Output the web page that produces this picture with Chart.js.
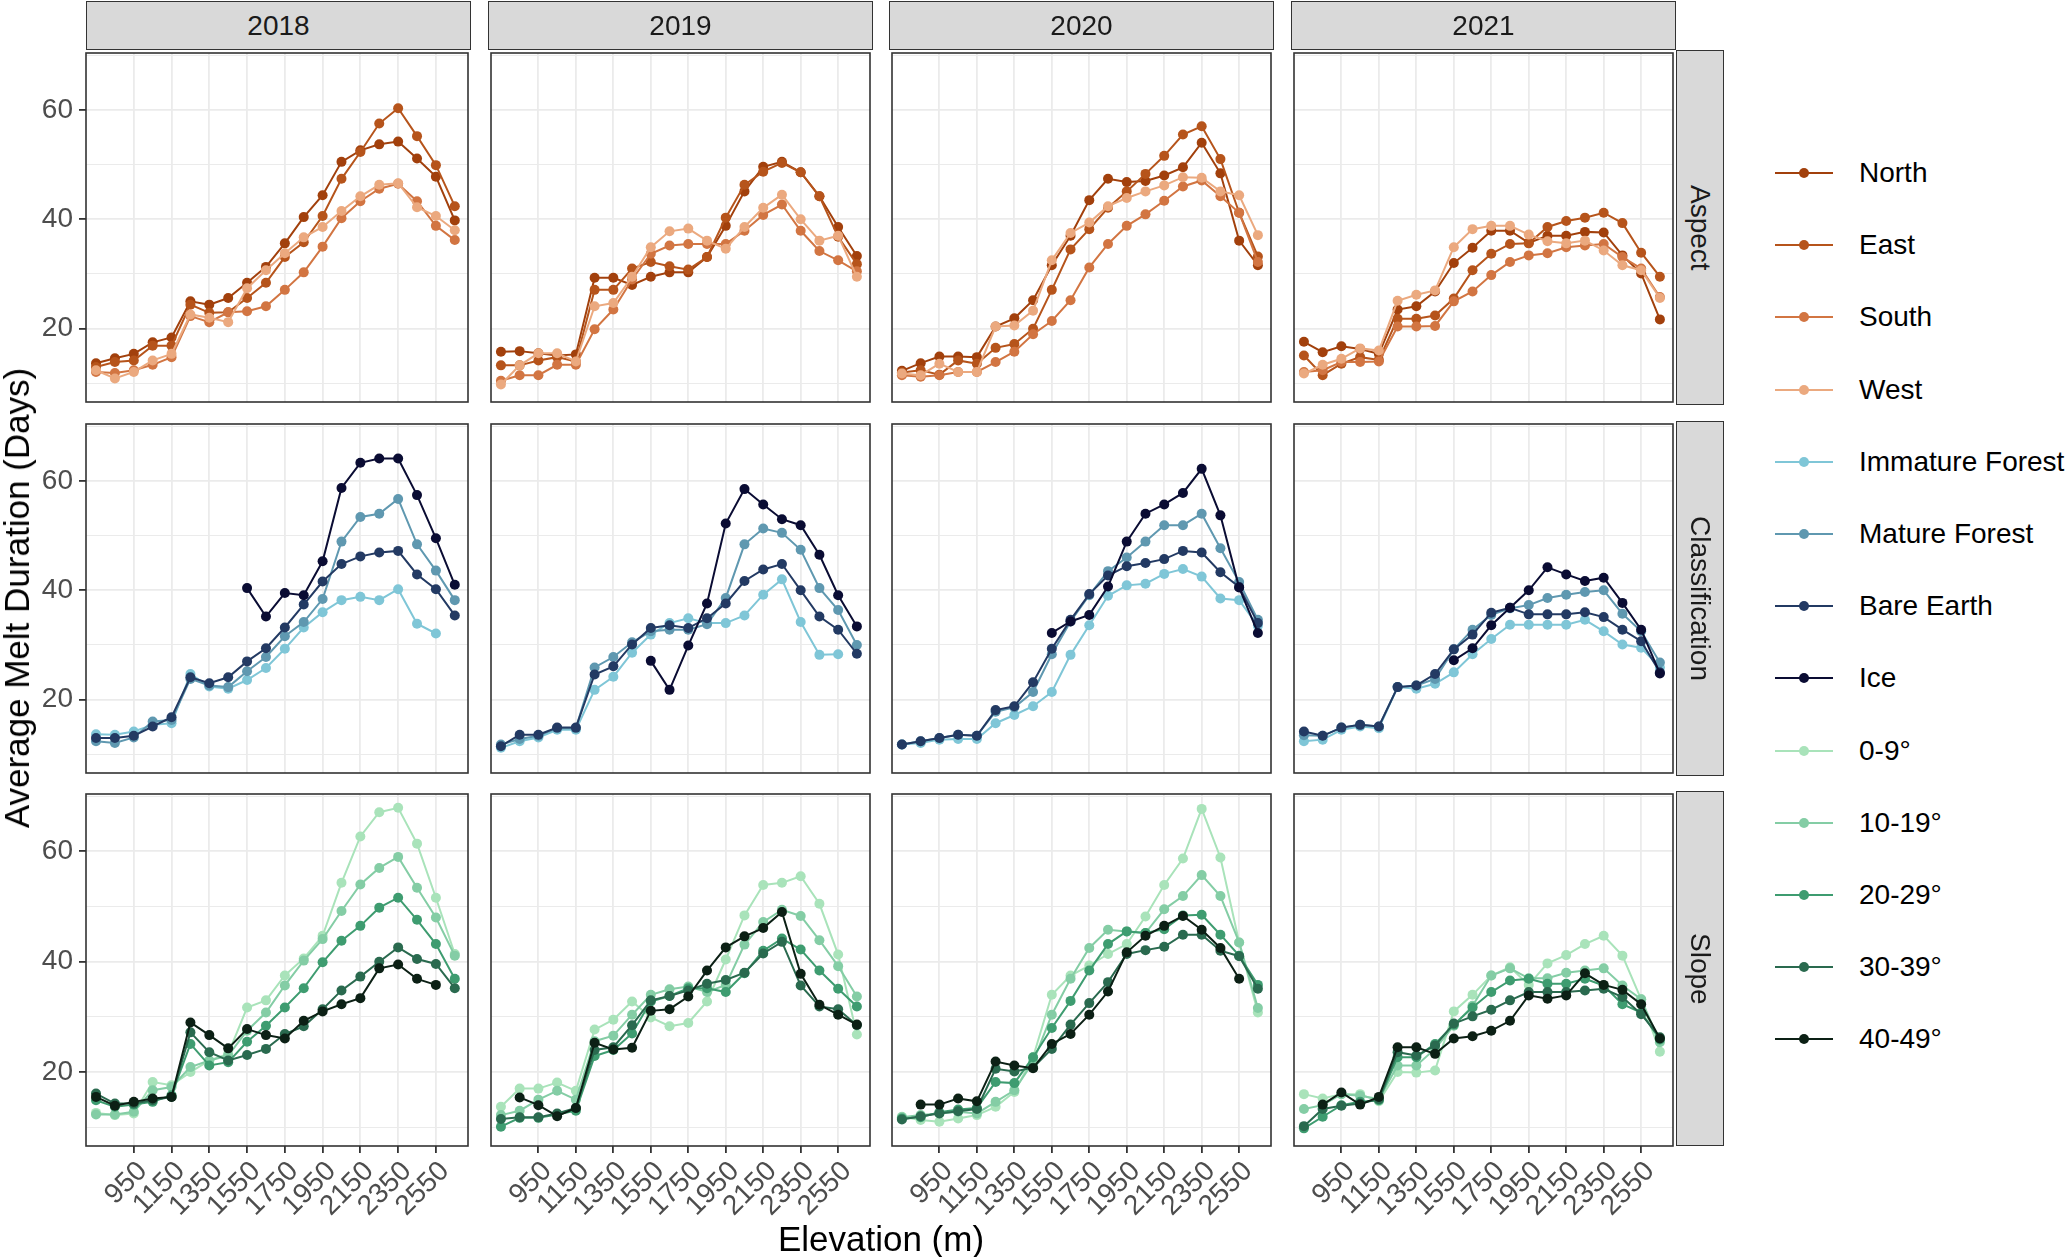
<!DOCTYPE html>
<html>
<head>
<meta charset="utf-8">
<script src="https://cdn.jsdelivr.net/npm/chart.js@4.4.1/dist/chart.umd.min.js"></script>
<style>
  body { margin: 0; background: #fff; width: 2067px; height: 1257px; position: relative; overflow: hidden;
         font-family: "Liberation Sans", Arial, sans-serif; }
  .strip { position: absolute; background: #d9d9d9; border: 1.6px solid #333; box-sizing: border-box;
           display: flex; align-items: center; justify-content: center; font-size: 28px; color: #1a1a1a; }
  .strip.side span { writing-mode: vertical-rl; }
  .title { position: absolute; font-size: 35px; color: #000; white-space: nowrap; }
  .key { position: absolute; height: 2px; width: 58px; left: 1775px; }
  .dot { position: absolute; width: 10px; height: 10px; border-radius: 50%; left: 1799px; }
  .lab { position: absolute; left: 1859px; font-size: 28px; color: #000; white-space: nowrap; line-height: 30px; }
</style>
</head>
<body>
<script>
// elevation bins (m) and axis breaks
const elevation = [750, 850, 950, 1050, 1150, 1250, 1350, 1450, 1550, 1650, 1750, 1850, 1950, 2050, 2150, 2250, 2350, 2450, 2550, 2650];
const xTicks = [950, 1150, 1350, 1550, 1750, 1950, 2150, 2350, 2550];
const yTicks = [10, 20, 30, 40, 50, 60, 70];
const yLabels = [20, 40, 60];
const years = ["2018", "2019", "2020", "2021"];
const facets = ["Aspect", "Classification", "Slope"];

const aspectNames = ["North", "East", "South", "West"];
const classNames = ["Immature Forest", "Mature Forest", "Bare Earth", "Ice"];
const slopeNames = ["0-9°", "10-19°", "20-29°", "30-39°", "40-49°"];

// Aspect
const north2018 = [13.7, 14.6, 15.4, 17.5, 18.4, 25.0, 24.4, 25.6, 28.4, 31.3, 35.6, 40.4, 44.4, 50.5, 52.6, 53.7, 54.2, 51.1, 47.8, 39.8];
const east2018  = [13.0, 13.9, 14.2, 16.9, 16.9, 24.4, 22.9, 23.0, 25.6, 28.4, 33.1, 35.8, 40.6, 47.4, 52.3, 57.5, 60.3, 55.2, 49.9, 42.4];
const south2018 = [12.1, 11.9, 12.4, 13.4, 14.8, 22.3, 21.2, 23.0, 23.2, 24.1, 27.1, 30.3, 35.0, 40.2, 43.3, 45.6, 46.5, 43.3, 38.8, 36.2];
const west2018  = [12.4, 10.9, 12.1, 14.2, 15.4, 22.6, 22.0, 21.2, 27.4, 30.7, 33.8, 36.7, 38.6, 41.5, 44.2, 46.3, 46.6, 42.2, 40.6, 38.0];

const north2019 = [15.8, 15.9, 15.5, 15.1, 15.3, 29.3, 29.3, 28.0, 29.5, 30.3, 30.3, 33.1, 38.8, 45.1, 49.6, 50.5, 48.6, 44.2, 38.6, 33.3];
const east2019  = [13.3, 13.3, 14.2, 14.8, 14.0, 27.1, 27.1, 31.0, 32.2, 31.4, 30.8, 33.1, 40.3, 46.3, 48.7, 50.3, 48.6, 44.2, 36.8, 31.8];
const south2019 = [10.5, 11.5, 11.5, 13.4, 13.4, 19.9, 23.5, 29.0, 33.7, 35.2, 35.5, 35.5, 35.5, 37.9, 40.8, 42.7, 37.9, 34.2, 32.5, 30.5];
const west2019  = [9.8, 13.3, 15.5, 15.5, 14.0, 24.1, 24.7, 29.5, 34.9, 37.8, 38.3, 36.1, 34.6, 38.6, 42.1, 44.5, 40.0, 36.1, 37.0, 29.5];

const north2020 = [12.3, 13.7, 14.9, 14.9, 14.8, 20.4, 21.9, 25.2, 31.6, 37.0, 43.5, 47.4, 46.8, 47.0, 48.0, 49.5, 54.0, 48.4, 36.1, 31.6];
const east2020  = [12.0, 12.4, 11.6, 14.2, 13.6, 16.5, 17.2, 20.0, 27.1, 34.5, 38.2, 42.1, 45.1, 48.3, 51.6, 55.5, 57.0, 51.0, 41.2, 33.2];
const south2020 = [11.5, 11.2, 11.5, 12.1, 12.1, 13.9, 15.8, 19.0, 21.4, 25.2, 31.2, 35.5, 38.8, 40.9, 43.4, 46.0, 47.1, 44.2, 41.2, 32.2];
const west2020  = [11.8, 11.5, 13.6, 12.1, 12.1, 20.4, 20.6, 23.3, 32.5, 37.5, 39.4, 42.4, 43.9, 45.1, 46.2, 47.7, 47.6, 45.1, 44.4, 37.1];

const north2021 = [17.6, 15.7, 16.8, 16.3, 15.4, 23.5, 24.1, 26.8, 32.0, 34.8, 37.9, 37.9, 35.7, 37.0, 37.0, 37.7, 37.6, 33.4, 30.1, 21.7];
const east2021  = [15.1, 11.5, 13.6, 14.8, 14.3, 21.8, 21.8, 22.4, 25.5, 30.7, 33.7, 35.5, 35.6, 38.6, 39.7, 40.3, 41.2, 39.3, 33.9, 29.5];
const south2021 = [12.1, 12.4, 13.9, 13.9, 14.0, 20.4, 20.4, 20.5, 25.0, 26.8, 29.8, 32.2, 33.4, 33.8, 34.9, 35.2, 35.5, 33.1, 31.0, 25.8];
const west2021  = [11.8, 13.4, 14.5, 16.4, 16.0, 25.1, 26.2, 27.0, 34.9, 38.2, 38.8, 38.8, 37.2, 36.0, 35.6, 36.1, 34.3, 31.6, 30.7, 25.6];

// Classification
const immature2018 = [13.7, 13.6, 14.2, 15.4, 15.7, 24.7, 22.4, 22.0, 23.6, 25.8, 29.3, 33.2, 36.0, 38.2, 38.8, 38.2, 40.2, 33.9, 32.1, null];
const mature2018   = [12.4, 12.1, 13.1, 16.0, 16.3, 23.8, 22.6, 22.3, 25.2, 27.8, 31.6, 34.2, 38.4, 48.9, 53.4, 54.0, 56.7, 48.4, 43.6, 38.2];
const bare2018     = [13.0, 13.0, 13.4, 15.1, 16.8, 24.1, 23.0, 24.1, 27.0, 29.4, 33.2, 37.4, 41.6, 44.8, 46.2, 46.9, 47.2, 42.9, 40.2, 35.4];
const ice2018      = [null, null, null, null, null, null, null, null, 40.4, 35.2, 39.5, 39.1, 45.3, 58.7, 63.3, 64.1, 64.1, 57.4, 49.5, 41.0];

const immature2019 = [11.2, 12.4, 13.1, 14.5, 14.5, 21.8, 24.2, 28.6, 31.9, 34.0, 34.9, 34.0, 34.0, 35.4, 39.2, 42.0, 34.2, 28.2, 28.3, null];
const mature2019   = [11.8, 12.8, 13.4, 14.8, 14.8, 25.9, 27.8, 30.5, 32.5, 32.8, 32.8, 33.8, 38.6, 48.4, 51.3, 50.5, 47.4, 40.4, 36.4, 30.0];
const bare2019     = [11.5, 13.6, 13.6, 14.9, 14.9, 24.6, 26.1, 30.1, 33.1, 33.6, 33.1, 34.9, 37.6, 41.7, 43.8, 44.8, 40.0, 35.2, 32.8, 28.4];
const ice2019      = [null, null, null, null, null, null, null, null, 27.1, 21.8, 29.9, 37.6, 52.2, 58.5, 55.7, 53.0, 51.9, 46.5, 39.1, 33.4];

const immature2020 = [11.8, 12.1, 12.7, 12.8, 12.8, 15.7, 17.2, 18.8, 21.4, 28.2, 33.6, 39.0, 40.9, 41.2, 43.0, 43.9, 42.5, 38.5, 38.2, 33.5];
const mature2020   = [11.8, 12.4, 13.0, 13.6, 13.4, 17.8, 18.6, 21.4, 28.3, 34.3, 39.1, 43.5, 46.0, 48.9, 51.9, 51.9, 54.0, 47.7, 41.5, 34.6];
const bare2020     = [11.8, 12.4, 13.0, 13.6, 13.4, 18.1, 18.8, 23.2, 29.3, 34.6, 39.3, 42.7, 44.4, 45.0, 45.7, 47.2, 46.9, 43.3, 40.6, 34.0];
const ice2020      = [null, null, null, null, null, null, null, null, 32.2, 34.3, 35.5, 40.7, 48.9, 54.0, 55.7, 57.8, 62.2, 53.7, 40.5, 32.2];

const immature2021 = [12.4, 12.7, 14.5, 15.1, 14.8, 22.3, 22.0, 22.9, 25.0, 28.3, 31.1, 33.7, 33.7, 33.7, 33.7, 34.6, 32.5, 30.1, 29.5, 25.9];
const mature2021   = [13.5, 13.4, 14.9, 15.4, 15.1, 22.3, 22.6, 23.8, 29.2, 32.8, 35.5, 36.7, 37.3, 38.6, 39.2, 39.7, 40.0, 35.7, 32.5, 26.8];
const bare2021     = [14.2, 13.4, 14.9, 15.4, 15.1, 22.3, 22.6, 24.7, 29.2, 31.9, 35.9, 36.8, 35.6, 35.6, 35.6, 36.0, 35.1, 32.8, 30.7, 25.0];
const ice2021      = [null, null, null, null, null, null, null, null, 27.2, 29.4, 33.6, 36.8, 40.0, 44.2, 42.9, 41.7, 42.3, 37.7, 32.8, 24.8];

// Slope
const s0_2018  = [12.6, 12.2, 12.5, 18.2, 17.6, 20.0, 22.1, 23.3, 31.7, 33.0, 37.5, 40.6, 44.7, 54.3, 62.7, 67.1, 67.9, 61.4, 51.6, 41.4];
const s10_2018 = [12.3, 12.3, 12.8, 16.7, 17.3, 20.9, 22.1, 23.0, 27.5, 30.8, 35.7, 40.2, 44.1, 49.2, 54.0, 57.0, 59.0, 53.4, 48.0, 41.1];
const s20_2018 = [14.9, 13.7, 14.1, 14.6, 15.8, 25.1, 21.2, 21.8, 25.5, 28.4, 31.7, 35.2, 39.9, 43.8, 46.5, 49.8, 51.6, 47.6, 43.2, 36.9];
const s30_2018 = [16.1, 14.3, 14.3, 14.9, 15.5, 27.2, 23.6, 22.1, 23.1, 24.2, 26.9, 28.3, 31.4, 34.8, 37.3, 40.0, 42.6, 40.5, 39.6, 35.2];
const s40_2018 = [15.5, 13.9, 14.6, 15.2, 15.5, 29.0, 26.7, 24.3, 27.8, 26.7, 26.1, 29.3, 31.0, 32.3, 33.4, 38.8, 39.5, 36.9, 35.8, null];

const s0_2019  = [13.7, 17.0, 17.0, 18.1, 16.6, 27.7, 29.5, 32.8, 29.9, 28.3, 28.9, 32.8, 40.4, 48.4, 53.9, 54.3, 55.5, 50.5, 41.3, 26.8];
const s10_2019 = [12.2, 13.0, 15.0, 16.6, 15.0, 25.6, 26.6, 30.4, 34.0, 35.0, 35.5, 34.5, 35.8, 43.1, 47.2, 49.4, 48.3, 43.9, 39.2, 33.7];
const s20_2019 = [10.1, 11.7, 11.7, 12.3, 13.0, 22.9, 24.0, 27.0, 32.8, 33.8, 35.2, 35.2, 34.5, 37.9, 42.0, 44.2, 42.2, 38.4, 35.1, 31.9];
const s30_2019 = [11.5, 11.8, 11.8, 12.5, 13.5, 24.0, 24.5, 28.5, 33.0, 33.8, 34.8, 36.0, 36.7, 38.0, 41.5, 43.6, 35.7, 31.9, 31.4, 28.5];
const s40_2019 = [null, 15.4, 14.0, 12.0, 13.5, 25.3, 24.1, 24.4, 31.1, 31.4, 33.7, 38.4, 42.6, 44.6, 46.1, 49.0, 37.8, 32.2, 30.4, 28.6];

const s0_2020  = [11.9, 11.3, 11.0, 11.6, 12.2, 13.7, 16.4, 22.7, 34.0, 37.5, 39.3, 41.4, 43.2, 48.2, 53.9, 58.7, 67.7, 58.9, 43.5, 30.8];
const s10_2020 = [11.8, 12.2, 12.5, 12.8, 12.5, 14.6, 16.7, 21.8, 30.4, 36.9, 42.5, 45.8, 45.5, 45.2, 49.5, 51.9, 55.7, 51.9, 43.5, 31.6];
const s20_2020 = [11.6, 11.8, 12.7, 13.2, 13.5, 18.2, 18.0, 22.7, 28.0, 32.9, 38.4, 43.2, 45.5, 45.2, 45.9, 48.4, 48.5, 44.9, 41.1, 35.8];
const s30_2020 = [11.4, 12.0, 12.5, 12.9, 13.3, 20.6, 20.1, 20.8, 24.2, 28.6, 32.5, 36.3, 41.4, 42.1, 42.7, 44.9, 44.9, 42.0, 41.0, 35.1];
const s40_2020 = [null, 14.1, 14.1, 15.2, 14.7, 21.9, 21.2, 20.7, 25.1, 26.9, 30.4, 34.6, 41.7, 44.7, 46.5, 48.3, 45.8, 42.5, 36.9, null];

const s0_2021  = [16.0, 15.2, 16.0, 16.0, 14.7, 20.0, 19.9, 20.3, 31.0, 34.0, 37.5, 39.0, 35.8, 39.7, 41.2, 43.2, 44.7, 41.1, 33.2, 23.7];
const s10_2021 = [13.3, 14.0, 16.0, 15.7, 15.1, 21.2, 21.2, 24.2, 28.4, 32.0, 37.5, 38.8, 37.0, 37.0, 38.0, 38.4, 38.8, 35.7, 33.2, 25.4];
const s20_2021 = [9.8, 11.9, 14.0, 14.6, 14.9, 22.7, 22.7, 25.1, 28.6, 31.7, 34.5, 36.6, 36.9, 36.0, 36.0, 36.9, 35.7, 32.3, 30.8, 25.9];
const s30_2021 = [10.2, 13.3, 13.9, 14.3, 15.1, 23.6, 23.0, 24.8, 28.8, 30.1, 31.3, 33.0, 34.5, 34.5, 34.5, 34.8, 35.1, 33.6, 30.5, 26.3];
const s40_2021 = [null, 14.1, 16.3, 14.1, 15.5, 24.5, 24.5, 23.3, 26.1, 26.5, 27.5, 29.3, 33.9, 33.3, 33.9, 37.9, 35.8, 34.9, 32.3, 26.1];

// colours
const aspectColors = ["#a2400c", "#b6541b", "#d27542", "#eba97f"];
const classColors = ["#7fc6d7", "#5f98b0", "#233a63", "#0a0c33"];
const slopeColors = ["#a9e3ba", "#84cda5", "#3e9c70", "#2a6a4f", "#0c2015"];

const seriesNames = [aspectNames, classNames, slopeNames];
const seriesColors = [aspectColors, classColors, slopeColors];
const panelValues = [
  [[north2018, east2018, south2018, west2018], [north2019, east2019, south2019, west2019],
   [north2020, east2020, south2020, west2020], [north2021, east2021, south2021, west2021]],
  [[immature2018, mature2018, bare2018, ice2018], [immature2019, mature2019, bare2019, ice2019],
   [immature2020, mature2020, bare2020, ice2020], [immature2021, mature2021, bare2021, ice2021]],
  [[s0_2018, s10_2018, s20_2018, s30_2018, s40_2018], [s0_2019, s10_2019, s20_2019, s30_2019, s40_2019],
   [s0_2020, s10_2020, s20_2020, s30_2020, s40_2020], [s0_2021, s10_2021, s20_2021, s30_2021, s40_2021]]
];

// layout (px)
const FONT = '"Liberation Sans", Arial, sans-serif';
const colLeft = [86, 488, 889, 1291];
const rowTop = [50, 421, 791];
const PW = 385, PH = 355;
const Y_W = 84, X_H = 75, PAD = 2;

const frame = {
  id: "frame",
  afterDraw(chart) {
    const { ctx, chartArea: a } = chart;
    ctx.save();
    ctx.strokeStyle = "#333333";
    ctx.lineWidth = 1.6;
    ctx.strokeRect(a.left, a.top, a.right - a.left, a.bottom - a.top);
    ctx.restore();
  }
};

function addDiv(cls, css, text) {
  const d = document.createElement("div");
  d.className = cls;
  d.style.cssText = css;
  if (text !== undefined) d.innerHTML = text;
  document.body.appendChild(d);
  return d;
}

function makePanel(r, c) {
  const names = seriesNames[r];
  const colors = seriesColors[r];
  const values = panelValues[r][c];
  const left = c === 0, bottom = r === 2;
  const w = PW + (left ? Y_W : 0) + 2 * PAD;
  const h = PH + (bottom ? X_H : 0) + 2 * PAD;

  const canvas = document.createElement("canvas");
  canvas.width = w;
  canvas.height = h;
  canvas.style.cssText = `position:absolute;left:${colLeft[c] - (left ? Y_W : 0) - PAD}px;top:${rowTop[r] - PAD}px;width:${w}px;height:${h}px`;
  document.body.appendChild(canvas);

  new Chart(canvas, {
    type: "line",
    data: {
      datasets: names.map((n, i) => ({
        label: n,
        data: elevation.map((x, k) => ({ x: x, y: values[i][k] })),
        borderColor: colors[i],
        backgroundColor: colors[i],
        pointBackgroundColor: colors[i],
        pointBorderWidth: 0,
        pointRadius: 5,
        pointHoverRadius: 5,
        borderWidth: 2,
        tension: 0,
        spanGaps: false,
        order: names.length - i
      }))
    },
    options: {
      responsive: false,
      animation: false,
      devicePixelRatio: 1,
      events: [],
      layout: { padding: PAD },
      plugins: { legend: { display: false }, tooltip: { enabled: false } },
      scales: {
        x: {
          type: "linear",
          min: 697,
          max: 2720,
          afterBuildTicks: s => { s.ticks = xTicks.map(v => ({ value: v })); },
          afterFit: s => {
            s.height = bottom ? X_H : 0;
            s.paddingLeft = 0; s.paddingRight = 0;
          },
          border: { display: false },
          grid: { color: "#ebebeb", lineWidth: 1.8, drawTicks: bottom, tickLength: 7, tickWidth: 1.8, tickColor: "#333333" },
          ticks: {
            display: bottom, autoSkip: false, maxRotation: 45, minRotation: 45, padding: 2, labelOffset: 9,
            color: "#4d4d4d", font: { family: FONT, size: 28 },
            callback: v => String(v)
          }
        },
        y: {
          min: 6.6,
          max: 70.4,
          afterBuildTicks: s => { s.ticks = yTicks.map(v => ({ value: v })); },
          afterFit: s => {
            s.width = left ? Y_W : 0;
            s.paddingTop = 0; s.paddingBottom = 0;
          },
          border: { display: false },
          grid: {
            color: "#ebebeb",
            lineWidth: ctx => yLabels.includes(ctx.tick.value) ? 1.8 : 1.1,
            drawTicks: left, tickLength: 7, tickWidth: 1.8,
            tickColor: ctx => yLabels.includes(ctx.tick.value) ? "#333333" : "rgba(0,0,0,0)"
          },
          ticks: {
            display: left, padding: 6, color: "#4d4d4d", font: { family: FONT, size: 28 },
            callback: v => yLabels.includes(v) ? String(v) : ""
          }
        }
      }
    },
    plugins: [frame]
  });
}

for (let r = 0; r < facets.length; r++) {
  for (let c = 0; c < years.length; c++) makePanel(r, c);
}

// strips
years.forEach((y, c) => {
  addDiv("strip", `left:${colLeft[c]}px;top:1px;width:${PW}px;height:49px;`, y);
});
facets.forEach((f, r) => {
  addDiv("strip side", `left:1676px;top:${rowTop[r]}px;width:48px;height:${PH}px;`, `<span>${f}</span>`);
});

// axis titles
addDiv("title", "left:881px;top:1239px;transform:translate(-50%,-50%);", "Elevation (m)");
addDiv("title", "left:17px;top:598px;transform:translate(-50%,-50%) rotate(-90deg);", "Average Melt Duration (Days)");

// legend
const legendNames = [].concat(aspectNames, classNames, slopeNames);
const legendColors = [].concat(aspectColors, classColors, slopeColors);
legendNames.forEach((n, i) => {
  const y = 173 + i * 72.2;
  addDiv("key", `top:${y - 1}px;background:${legendColors[i]};`);
  addDiv("dot", `top:${y - 5}px;background:${legendColors[i]};`);
  addDiv("lab", `top:${y - 15}px;`, n);
});
</script>
</body>
</html>
